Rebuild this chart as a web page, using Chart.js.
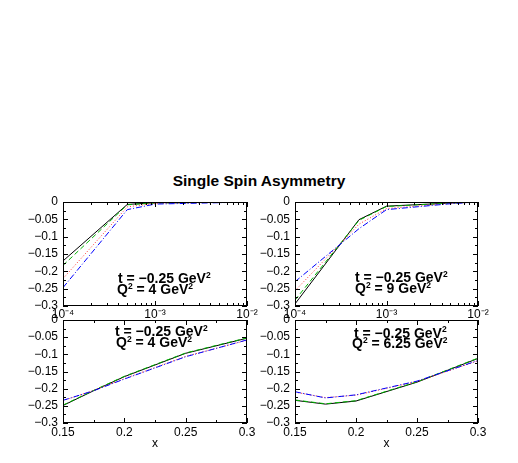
<!DOCTYPE html>
<html>
<head>
<meta charset="utf-8">
<script src="https://cdn.jsdelivr.net/npm/chart.js@4.4.1/dist/chart.umd.min.js"></script>
<style>
  body { margin: 0; background: #fff; }
  #wrap { position: relative; width: 518px; height: 463px; }
  canvas { position: absolute; left: 0; top: 0; }
  #title {
    position: absolute; left: 0; top: 173px; width: 518px; text-align: center;
    font: bold 15.5px "Liberation Sans", Arial, sans-serif; line-height: 16px;
  }
</style>
</head>
<body>
<div id="wrap">
  <div id="title">Single Spin Asymmetry</div>
  <canvas id="c1" width="518" height="463"></canvas>
  <canvas id="c2" width="518" height="463"></canvas>
  <canvas id="c3" width="518" height="463"></canvas>
  <canvas id="c4" width="518" height="463"></canvas>
</div>
<script>
// x values
const xSmall = [1e-4, 5e-4, 1e-3, 5e-3, 1e-2]
const xLarge = [0.15, 0.175, 0.2, 0.25, 0.3]
const xSmallTickLabels = ['10⁻⁴', '10⁻³', '10⁻²']

// panel 1: t = -0.25, Q2 = 4, small x
const p1Black = [-0.170, -0.007, -0.002, -0.001, 0]
const p1Green = [-0.183, -0.008, -0.003, -0.001, 0]
const p1Red   = [-0.221, -0.014, -0.004, -0.001, 0]
const p1Blue  = [-0.247, -0.022, -0.006, -0.002, 0]

// panel 2: t = -0.25, Q2 = 9, small x
const p2Black = [-0.294, -0.051, -0.012, -0.003, 0]
const p2Green = [-0.283, -0.053, -0.013, -0.003, 0]
const p2Red   = [-0.256, -0.064, -0.019, -0.004, 0]
const p2Blue  = [-0.230, -0.077, -0.022, -0.005, 0]

// panel 3: t = -0.25, Q2 = 4, large x
const p3Black = [-0.249, -0.206, -0.165, -0.097, -0.053]
const p3Green = [-0.248, -0.205, -0.164, -0.096, -0.052]
const p3Red   = [-0.235, -0.205, -0.171, -0.106, -0.059]
const p3Blue  = [-0.234, -0.206, -0.172, -0.107, -0.058]

// panel 4: t = -0.25, Q2 = 6.25, large x
const p4Black = [-0.234, -0.245, -0.236, -0.181, -0.112]
const p4Green = [-0.233, -0.244, -0.235, -0.180, -0.111]
const p4Red   = [-0.210, -0.226, -0.219, -0.179, -0.119]
const p4Blue  = [-0.209, -0.227, -0.218, -0.178, -0.118]

const FONT = '"Liberation Sans", Arial, sans-serif'

// drawn in order black, green, red, blue (blue on top)
const styles = [
  { color: '#000000', dash: [], order: 3 },
  { color: '#00b400', dash: [5, 3], order: 2 },
  { color: '#ff3030', dash: [1, 2], order: 1 },
  { color: '#0000ff', dash: [6, 2, 1, 2], order: 0 },
]

const makeDatasets = (xs, series) =>
  series.map((ys, i) => ({
    data: xs.map((x, j) => ({ x: x, y: ys[j] })),
    borderColor: styles[i].color,
    borderDash: styles[i].dash,
    order: styles[i].order,
    borderWidth: 1,
    pointRadius: 0,
    tension: 0,
    fill: false,
  }))

// frame + inward ticks + label text
const framePlugin = {
  id: 'frame',
  afterDraw(chart, args, opts) {
    const ctx = chart.ctx
    const a = chart.chartArea
    const xs = chart.scales.x
    const ys = chart.scales.y
    ctx.save()
    ctx.strokeStyle = '#000'
    ctx.lineWidth = 1
    ctx.setLineDash([])
    ctx.strokeRect(a.left + 0.5, a.top + 0.5, a.right - a.left - 1, a.bottom - a.top - 1)
    ctx.beginPath()
    // y ticks every 0.025
    for (let k = 0; k <= 12; k++) {
      const v = -0.3 + k * 0.025
      const py = Math.round(ys.getPixelForValue(v)) + 0.5
      const len = k % 2 === 0 ? 5 : 3
      ctx.moveTo(a.left, py); ctx.lineTo(a.left + len, py)
      ctx.moveTo(a.right, py); ctx.lineTo(a.right - len, py)
    }
    // x ticks
    const xt = []
    if (opts.log) {
      ;[1e-4, 1e-3].forEach((d) => {
        for (let m = 1; m <= 9; m++) xt.push({ v: d * m, major: m === 1 })
      })
      xt.push({ v: 1e-2, major: true })
    } else {
      for (let k = 0; k <= 6; k++) xt.push({ v: 0.15 + k * 0.025, major: k % 2 === 0 })
    }
    xt.forEach((t) => {
      const px = Math.round(xs.getPixelForValue(t.v)) + 0.5
      const len = t.major ? 5 : 3
      ctx.moveTo(px, a.bottom); ctx.lineTo(px, a.bottom - len)
      ctx.moveTo(px, a.top); ctx.lineTo(px, a.top + len)
    })
    ctx.stroke()

    // annotation lines
    ctx.fillStyle = '#000'
    ctx.textBaseline = 'alphabetic'
    opts.notes.forEach((n) => {
      let x = n.x
      n.parts.forEach((p) => {
        ctx.font = p.sup ? 'bold 8.5px ' + FONT : 'bold 14px ' + FONT
        ctx.fillText(p.t, x, p.sup ? n.y - 5.5 : n.y)
        x += ctx.measureText(p.t).width
      })
    })
    ctx.restore()
  },
}

const yFmt = (v) => {
  const r = Math.round(v * 1000) / 1000
  return r === 0 ? '0' : '−' + String(Math.abs(r))
}

const makeChart = (id, xs, series, area, log, notes, xTitle) => {
  const ctx = document.getElementById(id).getContext('2d')
  const xAxisH = xTitle ? 28 : 16
  return new Chart(ctx, {
    type: 'line',
    data: { datasets: makeDatasets(xs, series) },
    plugins: [framePlugin],
    options: {
      responsive: false,
      animation: false,
      layout: {
        padding: {
          left: area.left - 48,
          right: 518 - area.right,
          top: area.top,
          bottom: 463 - area.bottom - xAxisH,
        },
      },
      plugins: {
        legend: { display: false },
        tooltip: { enabled: false },
        frame: { log: log, notes: notes },
      },
      scales: {
        x: log
          ? {
              type: 'logarithmic',
              min: 1e-4,
              max: 1e-2,
              afterBuildTicks: (s) => {
                s.ticks = [1e-4, 1e-3, 1e-2].map((v) => ({ value: v }))
              },
              afterFit: (s) => { s.height = xAxisH },
              grid: { display: false, drawTicks: false },
              border: { display: false },
              ticks: {
                autoSkip: false,
                maxRotation: 0,
                padding: 1,
                color: '#000',
                font: { family: FONT, size: 12 },
                callback: (v) => {
                  const i = [1e-4, 1e-3, 1e-2].findIndex((d) => Math.abs(d - v) < d * 1e-6)
                  return i >= 0 ? xSmallTickLabels[i] : ''
                },
              },
            }
          : {
              type: 'linear',
              min: 0.15,
              max: 0.3,
              afterFit: (s) => { s.height = xAxisH },
              grid: { display: false, drawTicks: false },
              border: { display: false },
              title: xTitle
                ? { display: true, text: 'x', color: '#000', font: { family: FONT, size: 12 }, padding: 0 }
                : { display: false },
              ticks: {
                stepSize: 0.05,
                autoSkip: false,
                maxRotation: 0,
                padding: 2,
                color: '#000',
                font: { family: FONT, size: 12 },
                callback: (v) => String(Math.round(v * 1000) / 1000),
              },
            },
        y: {
          type: 'linear',
          min: -0.3,
          max: 0,
          afterFit: (s) => { s.width = 48 },
          grid: { display: false, drawTicks: false },
          border: { display: false },
          ticks: {
            stepSize: 0.05,
            autoSkip: false,
            padding: 5,
            color: '#000',
            font: { family: FONT, size: 12 },
            callback: yFmt,
          },
        },
      },
    },
  })
}

const tLine = (x, y) => ({ x: x, y: y, parts: [{ t: 't = −0.25 GeV' }, { t: '2', sup: true }] })
const qLine = (x, y, q) => ({
  x: x, y: y,
  parts: [{ t: 'Q' }, { t: '2', sup: true }, { t: ' = ' + q + ' GeV' }, { t: '2', sup: true }],
})

makeChart('c1', xSmall, [p1Black, p1Green, p1Red, p1Blue],
  { left: 63, right: 247, top: 202, bottom: 306 }, true,
  [tLine(118, 283), qLine(117, 294, '4')], false)
makeChart('c2', xSmall, [p2Black, p2Green, p2Red, p2Blue],
  { left: 295, right: 478, top: 202, bottom: 306 }, true,
  [tLine(355, 282), qLine(355, 293, '9')], false)
makeChart('c3', xLarge, [p3Black, p3Green, p3Red, p3Blue],
  { left: 63, right: 247, top: 320, bottom: 423 }, false,
  [tLine(115, 336), qLine(116, 347, '4')], true)
makeChart('c4', xLarge, [p4Black, p4Green, p4Red, p4Blue],
  { left: 295, right: 478, top: 320, bottom: 423 }, false,
  [tLine(354, 337.5), qLine(352, 348, '6.25')], true)
</script>
</body>
</html>
